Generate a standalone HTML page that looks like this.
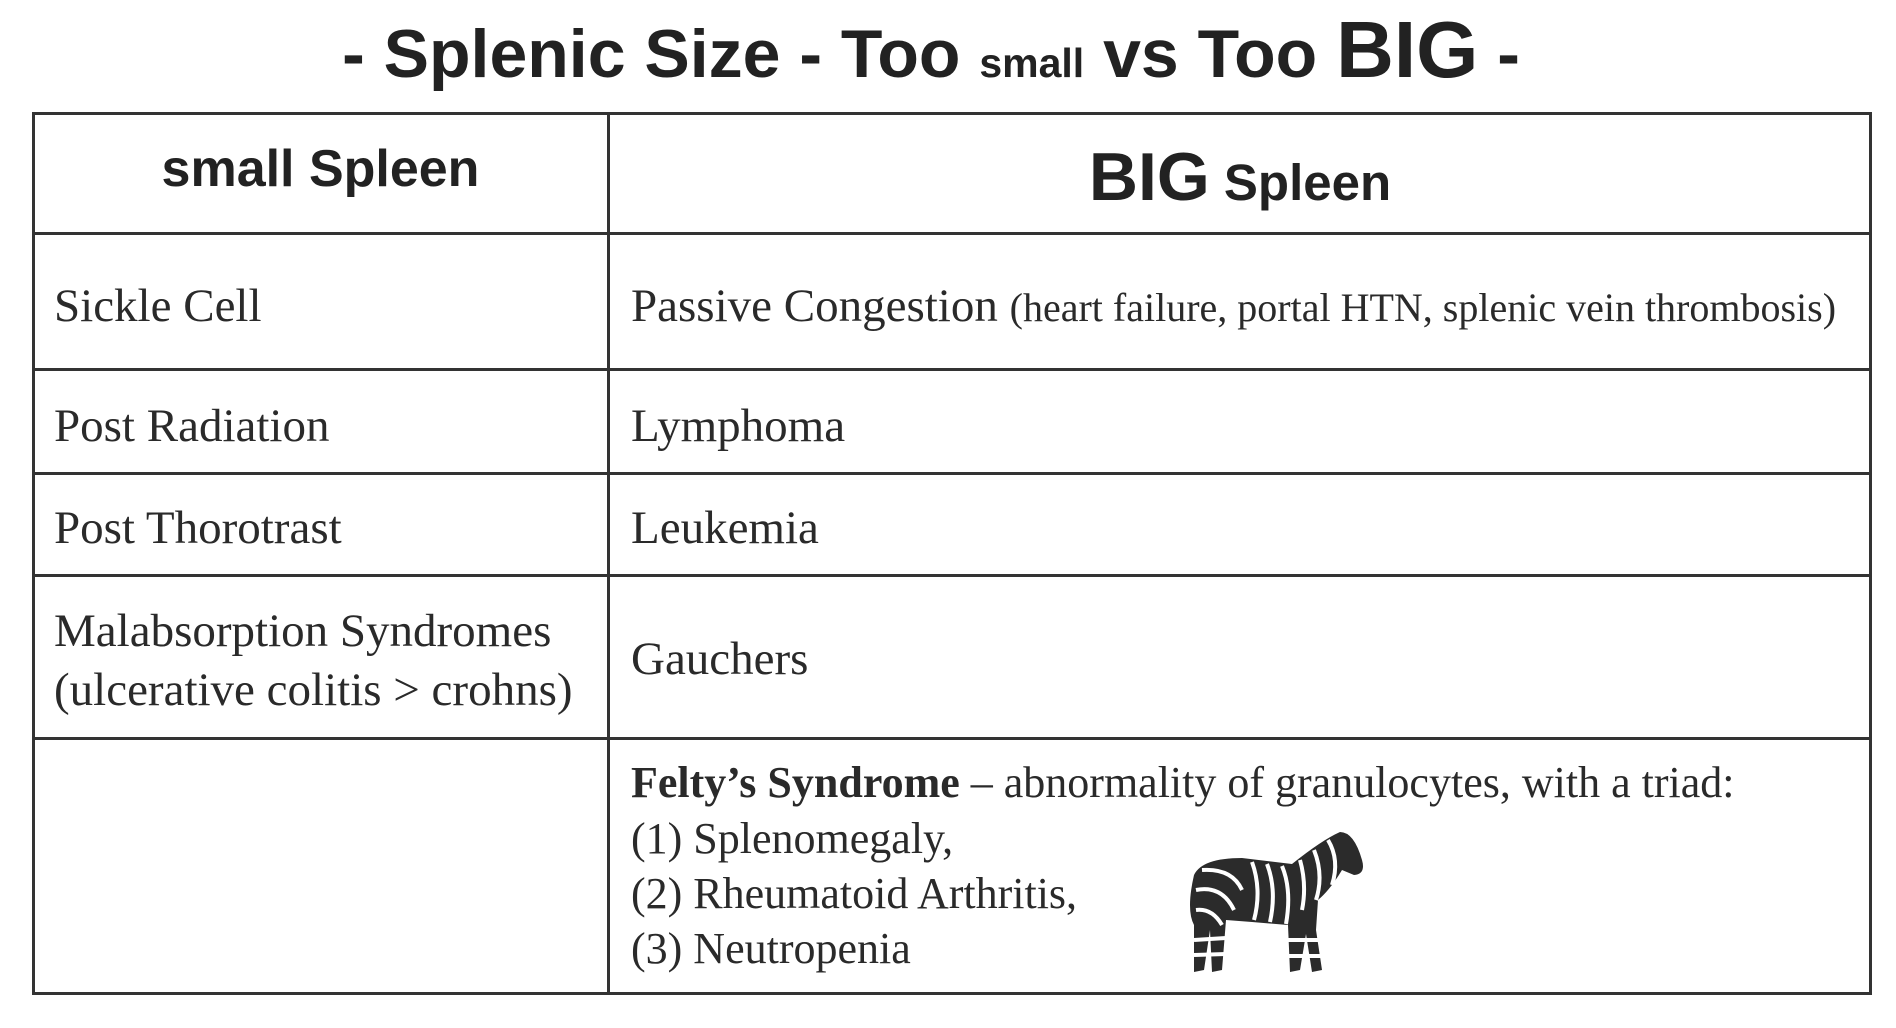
<!DOCTYPE html>
<html><head><meta charset="utf-8"><style>
html,body{margin:0;padding:0;background:#fff;}
body{width:1896px;height:1028px;position:relative;overflow:hidden;font-family:"Liberation Serif",serif;color:#2a2a2a;}
.t{position:absolute;white-space:nowrap;line-height:1;}
.s{font-family:"Liberation Sans",sans-serif;font-weight:bold;color:#222;}
.ln{position:absolute;background:#333;}
</style></head><body>
<div class="t s" style="left:0;width:1862px;text-align:center;top:10px;font-size:68px;">- Splenic Size - Too <span style="font-size:41px">small</span> vs Too <span style="font-size:80px">BIG</span> -</div>

<div>
<div class="ln" style="left:32px;top:112px;width:1840px;height:3px"></div>
<div class="ln" style="left:32px;top:992px;width:1840px;height:3px"></div>
<div class="ln" style="left:32px;top:112px;width:3px;height:883px"></div>
<div class="ln" style="left:1869px;top:112px;width:3px;height:883px"></div>
<div class="ln" style="left:607px;top:112px;width:3px;height:883px"></div>
<div class="ln" style="left:32px;top:232px;width:1840px;height:3px"></div>
<div class="ln" style="left:32px;top:368px;width:1840px;height:3px"></div>
<div class="ln" style="left:32px;top:472px;width:1840px;height:3px"></div>
<div class="ln" style="left:32px;top:574px;width:1840px;height:3px"></div>
<div class="ln" style="left:32px;top:737px;width:1840px;height:3px"></div>
</div>

<div class="t s" style="left:32px;width:577px;text-align:center;top:143px;font-size:52px;">small Spleen</div>
<div class="t s" style="left:609px;width:1262px;text-align:center;top:143px;font-size:51px;"><span style="font-size:68px">BIG</span> Spleen</div>

<div class="t" style="left:54px;top:283px;font-size:47px;">Sickle Cell</div>
<div class="t" style="left:631px;top:283px;font-size:47px;">Passive Congestion <span style="font-size:40px">(heart failure, portal HTN, splenic vein thrombosis)</span></div>
<div class="t" style="left:54px;top:403px;font-size:47px;">Post Radiation</div>
<div class="t" style="left:631px;top:403px;font-size:47px;">Lymphoma</div>
<div class="t" style="left:54px;top:505px;font-size:47px;">Post Thorotrast</div>
<div class="t" style="left:631px;top:505px;font-size:47px;">Leukemia</div>
<div class="t" style="left:54px;top:608px;font-size:47px;">Malabsorption Syndromes</div>
<div class="t" style="left:54px;top:667px;font-size:47px;">(ulcerative colitis &gt; crohns)</div>
<div class="t" style="left:631px;top:636px;font-size:47px;">Gauchers</div>

<div class="t" style="left:631px;top:761px;font-size:44px;"><b>Felty’s Syndrome</b> – abnormality of granulocytes, with a triad:</div>
<div class="t" style="left:631px;top:817px;font-size:44px;">(1) Splenomegaly,</div>
<div class="t" style="left:631px;top:872px;font-size:44px;">(2) Rheumatoid Arthritis,</div>
<div class="t" style="left:631px;top:927px;font-size:44px;">(3) Neutropenia</div>

<svg style="position:absolute;left:1182px;top:830px" width="184" height="146" viewBox="0 0 184 146">
<g fill="#2b2b2b">
<path d="M12 45 Q20 28 60 28 L110 34 Q140 10 158 2 Q172 2 180 30 Q184 44 172 45 L160 40 Q148 60 136 70 L134 100 L140 140 L130 142 L124 104 L118 140 L108 142 L106 95 L70 92 L44 90 L40 140 L30 142 L28 100 L22 140 L12 142 L12 95 Q4 80 12 45 Z"/>
</g>
<g stroke="#fff" stroke-width="4" fill="none">
<path d="M20 40 Q50 38 60 60"/><path d="M14 60 Q40 55 52 80"/><path d="M14 80 Q30 78 40 95"/>
<path d="M70 32 Q80 60 72 90"/><path d="M85 34 Q95 60 88 92"/><path d="M100 36 Q110 60 104 94"/>
<path d="M118 30 Q125 55 120 80"/><path d="M132 20 Q142 45 134 70"/><path d="M146 10 Q158 30 150 55"/>
<path d="M12 110 L44 108"/><path d="M12 125 L44 124"/><path d="M106 110 L138 110"/><path d="M106 126 L140 126"/>
</g>
</svg>
</body></html>
